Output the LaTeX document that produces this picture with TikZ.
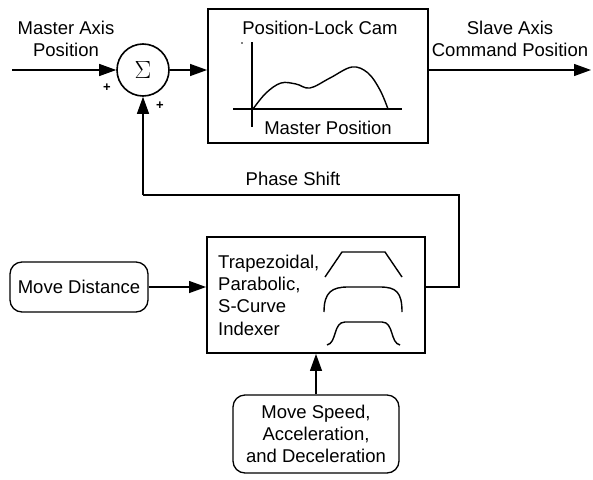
\documentclass[tikz,border=0pt]{standalone}
\usepackage{fontspec}
\setmainfont{Liberation Sans}
\usetikzlibrary{arrows.meta,positioning}

\tikzset{
  lbl/.style={font=\fontsize{18.5}{22}\selectfont, inner sep=0pt, align=center},
  blockbox/.style={draw, line width=1.9pt, inner sep=0pt},
  softbox/.style={draw, line width=1.3pt, rounded corners=12pt, inner sep=0pt},
  sig/.style={draw, line width=1.6pt, circle, inner sep=0pt, minimum size=52pt},
  flow/.style={line width=1.2pt, -{Triangle[length=17pt,width=12pt]}},
  wire/.style={line width=1.2pt},
  axisline/.style={line width=2.3pt},
  profile/.style={line width=1.4pt},
  sgn/.style={font=\fontsize{13}{13}\selectfont\bfseries, inner sep=0pt}
}

\begin{document}
\begin{tikzpicture}[x=1pt,y=-1pt]
\useasboundingbox (0,0) rectangle (593,479);

% summing junction
\node[sig] (sum) at (143,70) {\fontsize{31}{31}\selectfont$\Sigma$};

% position-lock cam block
\node[blockbox, minimum width=220pt, minimum height=134pt] (cam) at (318,76) {};
\node[lbl] (camtitle) at (320,28) {Position-Lock Cam};
\node[lbl] (camx) at (328,128) {Master Position};
\draw[axisline] (252,42) -- (252,127);
\draw[axisline] (233,109) -- (402,109);
\fill (242,43) circle (0.9pt);
\draw[profile] plot[smooth, tension=0.6] coordinates {
  (253,109) (266,93) (281,83) (296,84) (310,88) (330,78) (352,67) (368,73) (380,90) (388,109)};

% indexer block
\node[blockbox, minimum width=218pt, minimum height=116pt] (idx) at (316,295) {};
\node[lbl, align=left, anchor=west, font=\fontsize{18.5}{22.3}\selectfont] (idxtext) at (218,295)
  {Trapezoidal,\\Parabolic,\\S-Curve\\Indexer};
% trapezoidal profile
\draw[profile] (325,277) -- (342,252) -- (385,252) -- (402,277);
% parabolic profile
\draw[profile] (324,312) .. controls (324,292) and (332,287) .. (348,287)
  -- (380,287) .. controls (396,287) and (402,292) .. (402,312);
% s-curve profile
\draw[profile] (327,345) .. controls (337,343) and (333,322) .. (345,322)
  -- (382,322) .. controls (394,322) and (390,343) .. (400,345);

% input boxes
\node[softbox, minimum width=138pt, minimum height=50pt, lbl] (dist) at (79,287) {Move Distance};
\node[softbox, minimum width=166pt, minimum height=78pt, lbl] (speed) at (316,434)
  {Move Speed,\\Acceleration,\\and Deceleration};

% signal labels
\node[lbl] (mlabel) at (66,39) {Master Axis\\Position};
\node[lbl] (slabel) at (510,39) {Slave Axis\\Command Position};
\node[lbl] (plabel) at (293,179) {Phase Shift};
\node[sgn] (plusa) at (107,88) {+};
\node[sgn] (plusb) at (160,106) {+};

% connectors
\coordinate (src) at (12,70);
\coordinate (dst) at (591,70);
\coordinate (fbr) at (459,287);
\coordinate (fbt) at (459,195);
\coordinate (fbl) at (143,195);

\draw[flow] (src) -- (sum.west);
\draw[flow] (sum.east) -- (sum.east -| cam.west);
\draw[flow] (sum.east -| cam.east) -- (dst);
\draw[flow] (dist.east) -- (dist.east -| idx.west);
\draw[flow] (speed.north) -- (idx.south);
\draw[wire] (idx.east |- fbr) -- (fbr) -- (fbt) -- (fbl);
\draw[flow] (fbl) -- (sum.south);
\end{tikzpicture}
\end{document}
